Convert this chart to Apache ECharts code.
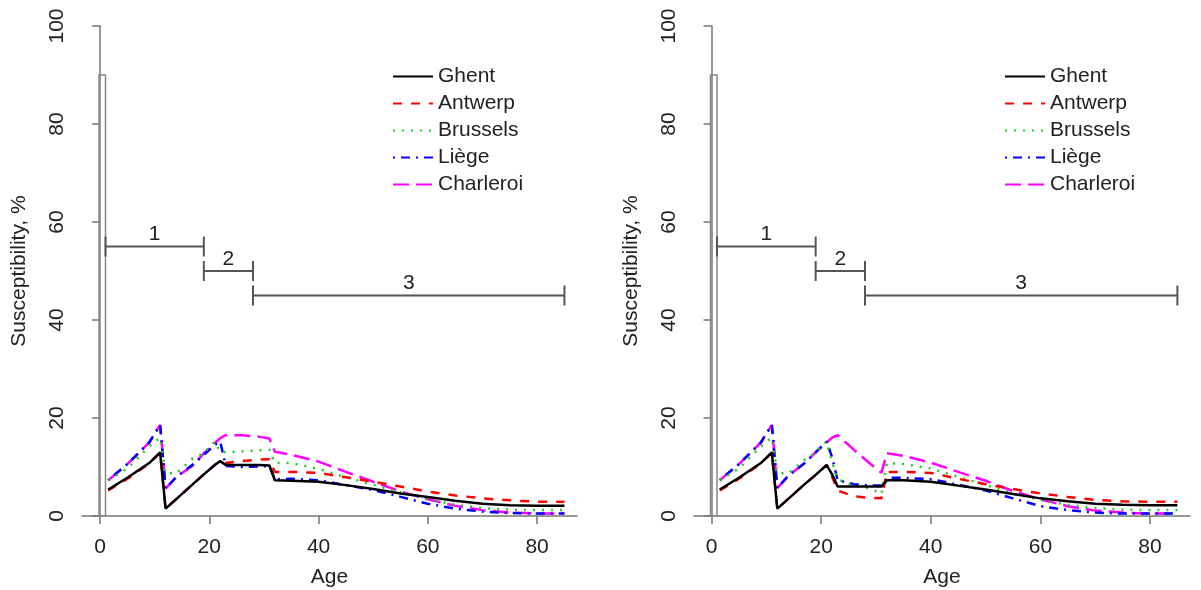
<!DOCTYPE html>
<html>
<head>
<meta charset="utf-8">
<script src="https://cdn.jsdelivr.net/npm/echarts@6/dist/echarts.min.js"></script>
<style>
html,body{margin:0;padding:0;background:#fff;}
#chart{width:1201px;height:590px;}
</style>
</head>
<body>
<div id="chart"></div>
<script>
// ---- data ----
const ages = [1.5, 5, 9, 11, 12, 14, 17, 19, 21, 22, 23, 26, 29, 31, 32, 35, 40, 45, 50, 55, 60, 65, 70, 75, 80, 85];
const seriesNames = ['Ghent', 'Antwerp', 'Brussels', 'Liège', 'Charleroi'];

// left panel
const ghentL     = [5.4, 7.8, 10.8, 13.0, 1.5, 3.5, 6.5, 8.5, 10.4, 11.2, 10.4, 10.4, 10.4, 10.3, 7.3, 7.2, 7.0, 6.3, 5.5, 4.6, 3.9, 3.1, 2.5, 2.2, 2.1, 2.1];
const antwerpL   = [5.2, 7.6, 10.7, 12.9, 1.5, 3.5, 6.5, 8.5, 10.4, 11.2, 10.8, 11.2, 11.5, 11.6, 9.0, 9.0, 8.8, 7.9, 7.0, 6.0, 5.0, 4.2, 3.6, 3.2, 2.9, 2.9];
const brusselsL  = [7.3, 9.7, 14.2, 16.0, 8.7, 8.7, 11.8, 12.8, 15.2, 13.1, 13.0, 13.2, 13.4, 13.5, 10.8, 10.8, 9.6, 7.9, 6.4, 4.8, 3.4, 2.3, 1.6, 1.3, 1.2, 1.2];
const liegeL     = [7.3, 10.6, 15.0, 18.6, 5.6, 8.0, 10.5, 12.5, 14.5, 15.2, 10.2, 10.0, 10.1, 10.2, 7.5, 7.6, 7.3, 6.3, 5.3, 3.9, 2.5, 1.5, 0.9, 0.6, 0.5, 0.5];
const charleroiL = [7.3, 10.6, 15.0, 18.6, 5.6, 8.0, 10.3, 12.8, 14.9, 15.9, 16.5, 16.5, 16.2, 15.8, 13.1, 12.5, 11.1, 9.0, 7.0, 5.0, 3.4, 2.1, 1.2, 0.7, 0.5, 0.5];

// right panel
const ghentR     = [5.4, 7.8, 10.8, 13.0, 1.5, 3.5, 6.5, 8.4, 10.4, 8.5, 6.0, 6.0, 6.0, 6.0, 7.3, 7.3, 7.0, 6.2, 5.4, 4.5, 3.6, 3.0, 2.5, 2.3, 2.2, 2.2];
const antwerpR   = [5.2, 7.6, 10.7, 12.9, 1.5, 3.5, 6.5, 8.4, 10.4, 8.0, 5.2, 4.0, 3.7, 3.6, 9.0, 9.0, 8.8, 7.6, 6.5, 5.5, 4.6, 3.9, 3.3, 3.0, 2.9, 2.9];
const brusselsR  = [7.3, 9.7, 14.2, 16.0, 8.7, 8.7, 11.5, 13.0, 15.2, 11.0, 7.5, 6.2, 5.6, 4.5, 10.8, 10.6, 9.7, 8.0, 6.3, 4.6, 3.3, 2.3, 1.6, 1.3, 1.2, 1.2];
const liegeR     = [7.3, 10.6, 15.0, 18.6, 5.7, 8.2, 10.8, 13.0, 15.2, 12.0, 7.3, 6.5, 6.2, 6.2, 7.8, 7.8, 7.5, 6.4, 5.2, 3.6, 2.0, 1.2, 0.7, 0.5, 0.5, 0.5];
const charleroiR = [7.3, 10.6, 15.0, 18.6, 5.7, 8.2, 10.8, 13.0, 15.0, 16.0, 16.5, 13.5, 10.6, 8.8, 12.8, 12.3, 10.9, 9.0, 7.2, 5.1, 3.4, 2.0, 1.1, 0.7, 0.5, 0.5];

// annotations
const boxAges = [0, 1];
const boxHeight = 90;
const periodLabels = ['1', '2', '3'];
const periodStart = [1, 19, 28];
const periodEnd = [19, 28, 85];
const periodLevel = [55, 50, 45];

// axes
const xTicks = [0, 20, 40, 60, 80];
const yTicks = [0, 20, 40, 60, 80, 100];

// ---- styles ----
const FONT = "'Liberation Sans', Arial, Helvetica, sans-serif";
const FS = 21;
const colors = ['#000000', '#ff0000', '#22cc22', '#0000ff', '#ff00ff'];
const dashes = ['solid', [9, 9], [2, 7], [2, 6, 9, 6], [16, 7]];
const TXT = '#222';
const AX = '#777';

const leftVals = [ghentL, antwerpL, brusselsL, liegeL, charleroiL];
const rightVals = [ghentR, antwerpR, brusselsR, liegeR, charleroiR];

const grids = [
  {left: 82, top: 26, width: 495, height: 490, containLabel: false, outerBoundsMode: 'none'},
  {left: 694, top: 26, width: 496, height: 490, containLabel: false, outerBoundsMode: 'none'}
];
const xRanges = [[-3.3, 87.3], [-3.2, 87.3]];

function xAxisFor(i) {
  return {
    type: 'value', gridIndex: i, min: xRanges[i][0], max: xRanges[i][1],
    name: 'Age', nameLocation: 'middle', nameGap: 51,
    nameTextStyle: {color: TXT, fontSize: FS, fontFamily: FONT},
    splitLine: {show: false},
    axisLine: {show: true, lineStyle: {color: AX, width: 1.5}},
    axisTick: {show: true, customValues: xTicks, length: 8, inside: false, lineStyle: {color: AX, width: 1.5}},
    axisLabel: {customValues: xTicks, color: TXT, fontSize: FS, fontFamily: FONT, margin: 21}
  };
}
function yAxisFor(i) {
  return {
    type: 'value', gridIndex: i, min: 0, max: 100, interval: 20,
    name: 'Susceptibility, %', nameLocation: 'middle', nameGap: 52,
    nameTextStyle: {color: TXT, fontSize: FS, fontFamily: FONT},
    splitLine: {show: false},
    axisLine: {show: true, lineStyle: {color: AX, width: 1.5}},
    axisTick: {show: true, length: 8, lineStyle: {color: AX, width: 1.5}},
    axisLabel: {rotate: 90, color: TXT, fontSize: FS, fontFamily: FONT, margin: 14,
      formatter: v => (yTicks.indexOf(v) >= 0 ? String(v) : '')}
  };
}

const series = [];
[leftVals, rightVals].forEach((vals, p) => {
  // reference box
  series.push({
    type: 'custom', xAxisIndex: p, yAxisIndex: p, silent: true, z: 1,
    data: [[boxAges[0], boxAges[1], boxHeight]],
    renderItem: (params, api) => {
      const a = api.coord([api.value(0), api.value(2)]);
      const b = api.coord([api.value(1), 0]);
      return {type: 'rect', shape: {x: a[0] - 1, y: a[1], width: b[0] - a[0] + 1, height: b[1] - a[1]},
        style: {fill: 'none', stroke: '#888', lineWidth: 1.5}};
    }
  });
  // period bars
  series.push({
    type: 'custom', xAxisIndex: p, yAxisIndex: p, silent: true, z: 2,
    data: periodLabels.map((l, i) => [periodStart[i], periodEnd[i], periodLevel[i]]),
    renderItem: (params, api) => {
      const s = api.coord([api.value(0), api.value(2)]);
      const e = api.coord([api.value(1), api.value(2)]);
      const h = 10;
      const st = {stroke: '#555', lineWidth: 2};
      return {type: 'group', children: [
        {type: 'line', shape: {x1: s[0], y1: s[1], x2: e[0], y2: e[1]}, style: st},
        {type: 'line', shape: {x1: s[0], y1: s[1] - h, x2: s[0], y2: s[1] + h}, style: st},
        {type: 'line', shape: {x1: e[0], y1: e[1] - h, x2: e[0], y2: e[1] + h}, style: st},
        {type: 'text', style: {text: periodLabels[params.dataIndex], x: (s[0] + e[0]) / 2, y: s[1] - 12,
          textAlign: 'center', textVerticalAlign: 'middle', fontSize: FS, fontFamily: FONT, fill: TXT}}
      ]};
    }
  });
  vals.forEach((v, k) => {
    series.push({
      name: seriesNames[k], type: 'line', xAxisIndex: p, yAxisIndex: p,
      data: ages.map((a, j) => [a, v[j]]),
      symbol: 'none', showSymbol: false, smooth: false, z: 10 - k,
      lineStyle: {color: colors[k], width: 2.5, type: dashes[k]},
      itemStyle: {color: colors[k]}
    });
  });
});

const legendBase = {
  orient: 'vertical', itemWidth: 40, itemHeight: 14, itemGap: 6, padding: 0,
  data: seriesNames, selectedMode: false,
  itemStyle: {opacity: 0},
  textStyle: {color: TXT, fontSize: FS, fontFamily: FONT}
};

const chart = echarts.init(document.getElementById('chart'), null, {renderer: 'canvas'});
chart.setOption({
  animation: false,
  backgroundColor: '#fff',
  grid: grids,
  xAxis: [xAxisFor(0), xAxisFor(1)],
  yAxis: [yAxisFor(0), yAxisFor(1)],
  legend: [
    Object.assign({left: 392, top: 66}, legendBase),
    Object.assign({left: 1004, top: 66}, legendBase)
  ],
  series: series
});
</script>
</body>
</html>
